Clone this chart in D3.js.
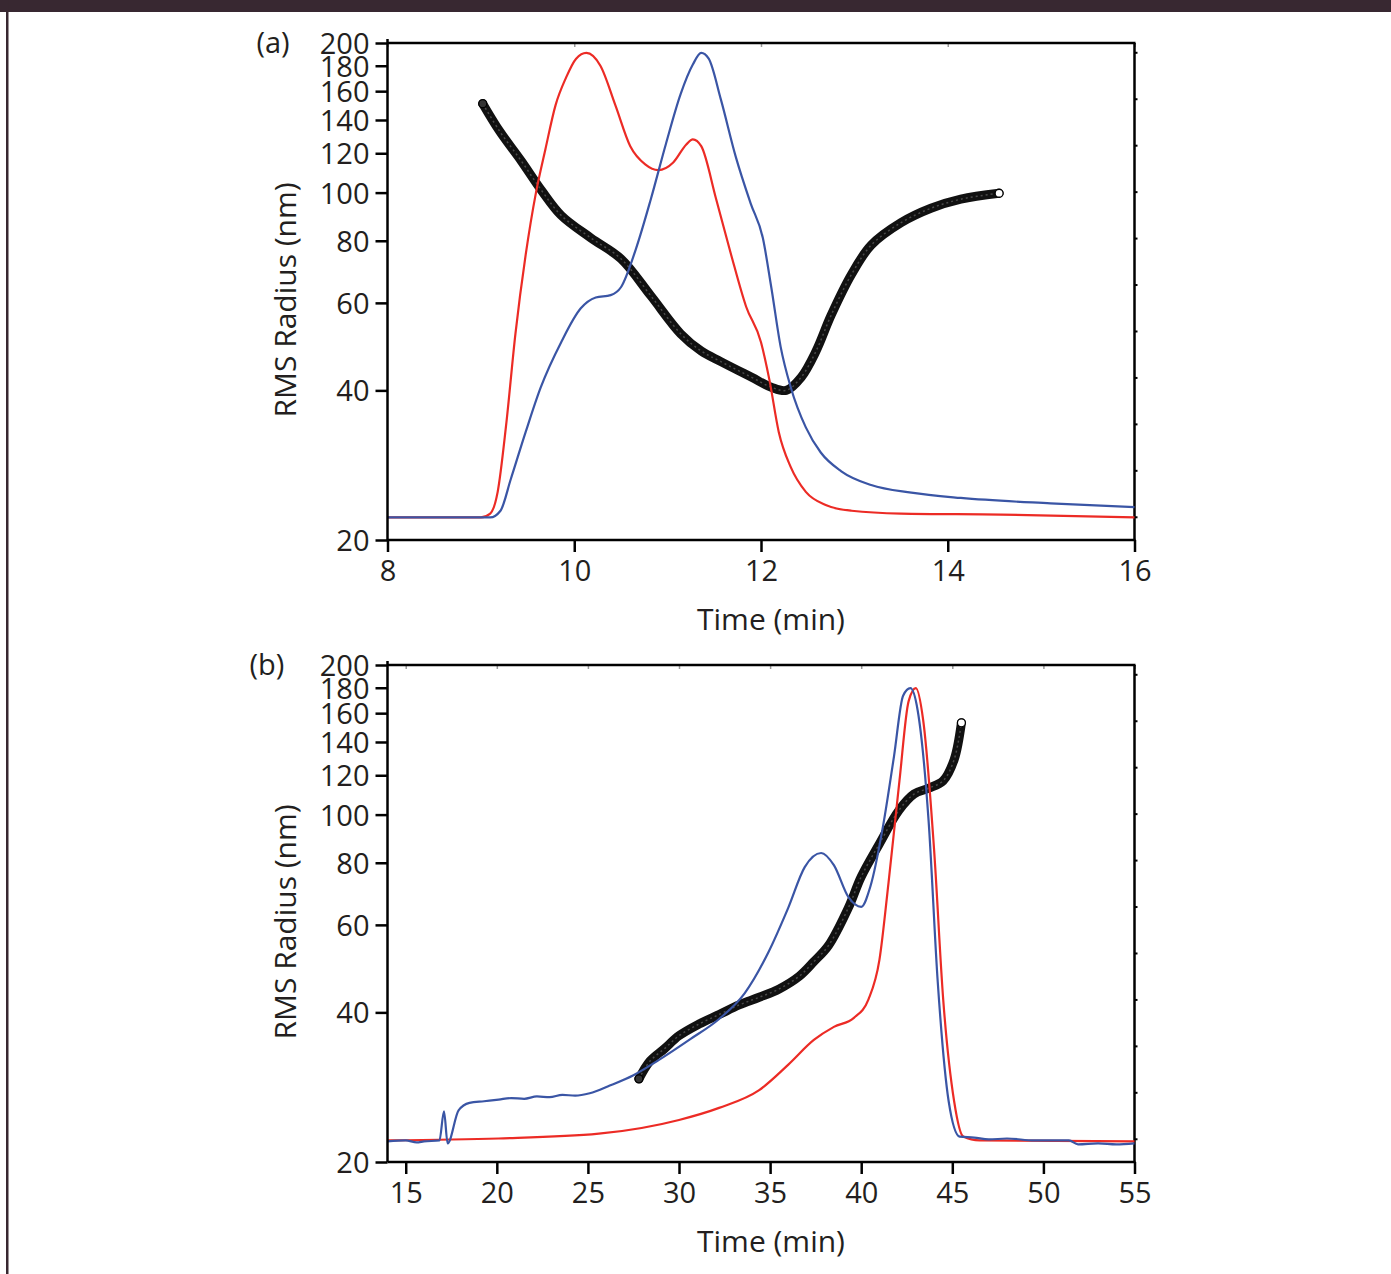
<!DOCTYPE html>
<html>
<head>
<meta charset="utf-8">
<script src="https://cdn.jsdelivr.net/npm/d3@7"></script>
<style>
  body { margin: 0; background: #fff; }
  svg text { font-family: "Open Sans", sans-serif; fill: #231f20; }
</style>
</head>
<body>
<div id="chart"></div>
<script>
// Values: [time (min), value on the RMS radius axis]
var yTicks = [20, 40, 60, 80, 100, 120, 140, 160, 180, 200];
var aTicks = [8, 10, 12, 14, 16];
var bTicks = [15, 20, 25, 30, 35, 40, 45, 50, 55];

var aRed = [[8, 22.2], [9.0, 22.2], [9.1, 22.6], [9.18, 25], [9.27, 34], [9.37, 52],
  [9.48, 75], [9.59, 100], [9.69, 122], [9.8, 150], [9.91, 170], [10.02, 186],
  [10.13, 191], [10.28, 180], [10.44, 150], [10.6, 124], [10.76, 114], [10.9, 111],
  [11.06, 115], [11.2, 125], [11.27, 128], [11.36, 124], [11.52, 97], [11.68, 75],
  [11.84, 59], [12.0, 50], [12.09, 42], [12.19, 33], [12.32, 28], [12.48, 25],
  [12.7, 23.5], [12.97, 22.9], [13.5, 22.6], [14.57, 22.5], [16, 22.2]];

var aBlue = [[8, 22.2], [9.1, 22.2], [9.21, 22.9], [9.32, 26.5], [9.48, 33], [9.64, 40.5],
  [9.86, 50], [10.07, 58.5], [10.23, 61.5], [10.39, 62.2], [10.5, 64.5], [10.66, 77],
  [10.82, 97], [10.98, 125], [11.14, 158], [11.27, 181], [11.36, 191], [11.44, 186],
  [11.57, 154], [11.73, 118], [11.89, 95], [12.02, 81], [12.11, 64.5], [12.21, 49],
  [12.32, 40.5], [12.48, 33.7], [12.64, 30], [12.86, 27.5], [13.18, 25.8], [13.61, 24.9],
  [14.14, 24.3], [15.1, 23.7], [16, 23.3]];

var aBlack = [[9.02, 151], [9.2, 133], [9.43, 116], [9.65, 101], [9.86, 90], [10.18, 81],
  [10.5, 73.6], [10.82, 62], [11.14, 52], [11.36, 48], [11.57, 45.7], [11.9, 42.5],
  [12.11, 40.6], [12.27, 40], [12.43, 42.5], [12.59, 48], [12.75, 56.6], [12.97, 68.5],
  [13.18, 78.4], [13.5, 87], [13.82, 93], [14.14, 97], [14.55, 99.7]];

var bRed = [[14, 22.1], [20.1, 22.3], [25.6, 22.8], [30, 24.3], [32.2, 25.7], [34.4, 27.9],
  [36, 31.4], [37.4, 35.2], [38.5, 37.4], [39.6, 39], [40.4, 42.5], [41, 51],
  [41.5, 73], [42.1, 117], [42.6, 169], [43, 179.6], [43.4, 155], [44, 85],
  [44.5, 42.5], [45.1, 26.5], [45.6, 22.5], [46.5, 22.1], [55, 22]];

var bBlue = [[14, 22], [15, 22.1], [15.6, 21.9], [16, 22], [16.85, 22.1], [17.1, 25.3], [17.3, 21.8],
  [17.9, 25.4], [18.5, 26.3], [19.3, 26.5], [20.1, 26.7], [20.8, 26.9], [21.5, 26.8],
  [22.2, 27.1], [22.9, 27.0], [23.6, 27.3], [24.3, 27.2], [25.1, 27.5], [26.2, 28.5],
  [27.5, 29.9], [28.9, 32.1], [30.6, 35.3], [32.2, 38.8],
  [33.6, 43.7], [34.9, 52.8], [36, 65], [36.9, 78.4], [37.8, 83.7], [38.5, 79.1],
  [39.3, 68.2], [40, 65.2], [40.5, 71.6], [41.2, 94.9], [41.8, 131], [42.3, 173.5],
  [42.7, 179.6], [43.1, 162], [43.7, 97], [44.2, 46.1], [44.8, 26.5], [45.4, 22.5],
  [46.2, 22.4], [47, 22.2], [48, 22.3], [49.5, 22.1], [51.4, 22.1], [51.9, 21.7],
  [53, 21.8], [54, 21.7], [55, 21.8]];

var bBlack = [[27.8, 29.4], [28.4, 31.9], [29.2, 33.8], [30, 35.9], [31.1, 37.9],
  [32.2, 39.6], [33.3, 41.4], [34.4, 42.9], [35.5, 44.6], [36.6, 47.3], [37.4, 50.6],
  [38.2, 54.5], [39.3, 65], [40.0, 75], [40.97, 87], [42.07, 102], [42.9, 110],
  [43.7, 113], [44.5, 117], [45.1, 129], [45.5, 153]];

var panels = [
  { label: "(a)", top: 43, xDomain: [8, 16], xTicks: aTicks, red: aRed, blue: aBlue, black: aBlack, labelX: 273 },
  { label: "(b)", top: 665, xDomain: [14, 55], xTicks: bTicks, red: bRed, blue: bBlue, black: bBlack, labelX: 267 }
];

var W = 1391, H = 1274;
var left = 387.5, right = 1134.5, plotH = 497;

var svg = d3.select("#chart").append("svg")
  .attr("width", W).attr("height", H);

// header strip and left rule of the page
svg.append("rect").attr("x", 0).attr("y", 0).attr("width", W).attr("height", 12).attr("fill", "#382831");
svg.append("rect").attr("x", 6).attr("y", 0).attr("width", 2.5).attr("height", H).attr("fill", "#382831");

panels.forEach(function(p) {
  var top = p.top, bottom = top + plotH;
  var x = d3.scaleLinear().domain(p.xDomain).range([left, right]);
  var y = d3.scaleLog().domain([20, 200]).range([bottom, top]);
  var g = svg.append("g");

  // faint minor ticks on the right edge and top edge
  var yr = d3.scaleLinear().domain([-0.5, 10.2]).range([bottom, top]);
  g.append("g")
    .attr("transform", "translate(" + right + ",0)")
    .call(d3.axisRight(yr).tickValues(d3.range(0, 11)).tickSize(3).tickFormat(""))
    .call(function(s) { s.select(".domain").remove(); s.selectAll("line").attr("stroke", "#000").attr("stroke-width", 2); });
  g.append("g")
    .attr("transform", "translate(0," + top + ")")
    .call(d3.axisBottom(x).tickValues(p.xTicks).tickSize(4).tickFormat(""))
    .call(function(s) { s.select(".domain").remove(); s.selectAll("line").attr("stroke", "#999").attr("stroke-width", 1.5); });

  // frame: top and right
  g.append("line").attr("x1", left).attr("x2", right + 1).attr("y1", top).attr("y2", top)
    .attr("stroke", "#000").attr("stroke-width", 2.5);
  g.append("line").attr("x1", right).attr("x2", right).attr("y1", top).attr("y2", bottom)
    .attr("stroke", "#000").attr("stroke-width", 2.5);

  var line = d3.line()
    .x(function(d) { return x(d[0]); })
    .y(function(d) { return y(d[1]); })
    .curve(d3.curveMonotoneX);
  var smooth = d3.line()
    .x(function(d) { return x(d[0]); })
    .y(function(d) { return y(d[1]); })
    .curve(d3.curveCatmullRom.alpha(0.5));

  // black RMS radius trace: dense open circles drawn as a thick band
  g.append("path").datum(p.black)
    .attr("d", smooth).attr("fill", "none")
    .attr("stroke", "#111").attr("stroke-width", 9).attr("stroke-linecap", "round");
  g.append("path").datum(p.black)
    .attr("d", smooth).attr("fill", "none")
    .attr("stroke", "#4a4a4a").attr("stroke-width", 1.5).attr("stroke-dasharray", "2,3");
  var ends = [p.black[0], p.black[p.black.length - 1]];
  g.selectAll(".endpt").data(ends).enter().append("circle")
    .attr("cx", function(d) { return x(d[0]); })
    .attr("cy", function(d) { return y(d[1]); })
    .attr("r", 4)
    .attr("fill", function(d, i) { return i === 1 ? "#fff" : "#333"; })
    .attr("stroke", "#000").attr("stroke-width", 1.3);

  g.append("path").datum(p.red)
    .attr("d", line).attr("fill", "none")
    .attr("stroke", "#ec2b25").attr("stroke-width", 2.2);
  g.append("path").datum(p.blue)
    .attr("d", line).attr("fill", "none")
    .attr("stroke", "#3a55a5").attr("stroke-width", 2.2);

  // left axis
  var yAxis = g.append("g")
    .attr("transform", "translate(" + left + ",0)")
    .call(d3.axisLeft(y).tickValues(yTicks).tickSize(12).tickPadding(6).tickFormat(d3.format("d")));
  yAxis.select(".domain").attr("d", "M0," + (top - 4) + "V" + bottom);
  yAxis.selectAll("line, path").attr("stroke", "#000").attr("stroke-width", 2.5);
  yAxis.selectAll("text").style("font-size", "29px").attr("dy", "0.36em").attr("fill", "#231f20");

  // bottom axis
  var xAxis = g.append("g")
    .attr("transform", "translate(0," + bottom + ")")
    .call(d3.axisBottom(x).tickValues(p.xTicks).tickSize(12).tickPadding(8));
  xAxis.select(".domain").attr("d", "M" + left + ",0H" + (right + 1));
  xAxis.selectAll("line, path").attr("stroke", "#000").attr("stroke-width", 2.5);
  xAxis.selectAll("text").style("font-size", "29px").attr("fill", "#231f20");

  g.append("text")
    .attr("x", 771).attr("y", bottom + 90)
    .attr("text-anchor", "middle").style("font-size", "30px")
    .text("Time (min)");
  g.append("text")
    .attr("transform", "translate(296," + (top + 257) + ") rotate(-90)")
    .attr("text-anchor", "middle").style("font-size", "30px")
    .text("RMS Radius (nm)");
  g.append("text")
    .attr("x", p.labelX).attr("y", top + 10)
    .attr("text-anchor", "middle").style("font-size", "29px")
    .text(p.label);
});
</script>
</body>
</html>
